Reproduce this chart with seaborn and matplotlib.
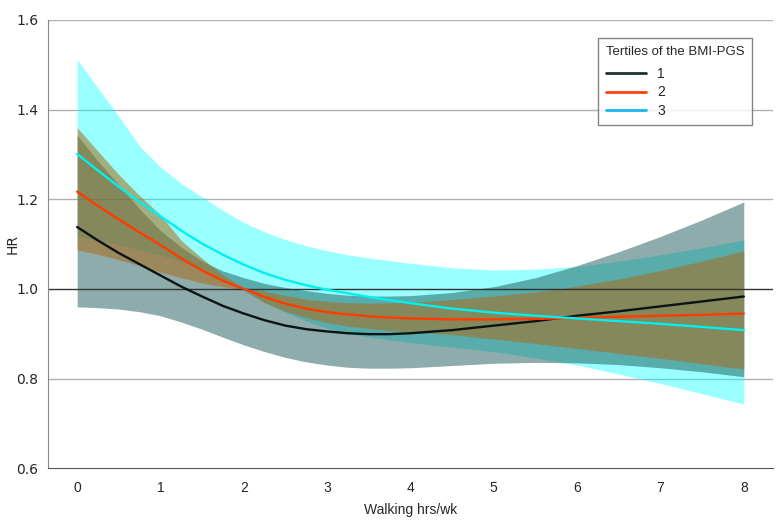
import numpy as np
import pandas as pd
import seaborn as sns
import matplotlib
matplotlib.use("Agg")
import matplotlib.pyplot as plt
from matplotlib.lines import Line2D

# walking hours per week
hours = [0, 0.25, 0.5, 0.75, 1, 1.25, 1.5, 1.75, 2, 2.25, 2.5, 2.75, 3, 3.25, 3.5, 3.75, 4,
         4.5, 5, 5.5, 6, 6.5, 7, 7.5, 8]

# tertile 1
hr1 = [1.138, 1.108, 1.080, 1.055, 1.030, 1.005, 0.983, 0.962, 0.945, 0.930, 0.918, 0.910, 0.905,
       0.901, 0.899, 0.899, 0.901, 0.908, 0.918, 0.928, 0.940, 0.950, 0.961, 0.972, 0.983]
lo1 = [0.960, 0.958, 0.955, 0.949, 0.940, 0.926, 0.910, 0.892, 0.875, 0.860, 0.847, 0.837, 0.830,
       0.825, 0.823, 0.823, 0.824, 0.829, 0.834, 0.836, 0.835, 0.831, 0.824, 0.815, 0.804]
hi1 = [1.343, 1.285, 1.232, 1.178, 1.130, 1.093, 1.062, 1.040, 1.025, 1.012, 1.003, 0.996, 0.990,
       0.986, 0.984, 0.984, 0.985, 0.992, 1.005, 1.025, 1.052, 1.083, 1.117, 1.154, 1.194]

# tertile 2
hr2 = [1.217, 1.185, 1.155, 1.126, 1.098, 1.068, 1.041, 1.018, 1.000, 0.982, 0.967, 0.956, 0.948,
       0.943, 0.939, 0.936, 0.934, 0.932, 0.932, 0.933, 0.935, 0.938, 0.940, 0.942, 0.945]
lo2 = [1.087, 1.077, 1.065, 1.052, 1.037, 1.025, 1.013, 1.005, 0.998, 0.969, 0.950, 0.936, 0.925,
       0.917, 0.912, 0.907, 0.904, 0.898, 0.888, 0.878, 0.867, 0.856, 0.845, 0.833, 0.821]
hi2 = [1.360, 1.307, 1.255, 1.208, 1.165, 1.108, 1.068, 1.031, 1.002, 0.995, 0.985, 0.977, 0.972,
       0.969, 0.968, 0.969, 0.970, 0.976, 0.984, 0.993, 1.006, 1.022, 1.041, 1.062, 1.085]

# tertile 3
hr3 = [1.301, 1.264, 1.228, 1.194, 1.162, 1.130, 1.101, 1.076, 1.054, 1.035, 1.020, 1.008, 0.998,
       0.990, 0.982, 0.975, 0.968, 0.956, 0.947, 0.940, 0.934, 0.928, 0.922, 0.915, 0.908]
lo3 = [1.118, 1.108, 1.098, 1.087, 1.075, 1.062, 1.045, 1.022, 0.995, 0.969, 0.948, 0.928, 0.912,
       0.900, 0.893, 0.886, 0.880, 0.870, 0.860, 0.846, 0.830, 0.810, 0.789, 0.766, 0.743]
hi3 = [1.512, 1.448, 1.385, 1.318, 1.272, 1.235, 1.205, 1.175, 1.148, 1.127, 1.110, 1.096, 1.085,
       1.076, 1.069, 1.063, 1.057, 1.047, 1.042, 1.044, 1.050, 1.062, 1.076, 1.092, 1.109]

tertiles = ["1", "2", "3"]
line_colors = ["#0a1414", "#ff3c00", "#00f0f0"]
legend_colors = ["#1e3232", "#ff4010", "#18b8ec"]

sns.set_style("white")
plt.rcParams["font.family"] = ["Liberation Sans", "DejaVu Sans"]

df = pd.DataFrame({
    "hours": hours * 3,
    "HR": hr1 + hr2 + hr3,
    "tertile": ["1"] * len(hours) + ["2"] * len(hours) + ["3"] * len(hours),
})

fig = plt.figure(figsize=(7.8, 5.26), dpi=100)
ax = fig.add_axes([0.0615, 0.110, 0.9295, 0.852])

# confidence bands: tertile 3 underneath, then 1, then 2
ax.fill_between(hours, lo3, hi3, color="#00ffff", alpha=0.4, linewidth=0, zorder=1)
ax.fill_between(hours, lo1, hi1, color="#155353", alpha=0.48, linewidth=0, zorder=1)
ax.fill_between(hours, lo2, hi2, color="#a86c18", alpha=0.55, linewidth=0, zorder=1)

for y in [0.8, 1.2, 1.4, 1.6]:
    ax.axhline(y, color="#b0b0b0", linewidth=1.0, zorder=0)
ax.axhline(1.0, color="#333333", linewidth=1.0, zorder=2)

sns.lineplot(data=df, x="hours", y="HR", hue="tertile", palette=dict(zip(tertiles, line_colors)),
             linewidth=1.7, ax=ax, legend=False, zorder=3)

ax.set_xlim(-0.35, 8.35)
ax.set_ylim(0.6, 1.6)
ax.set_xticks(range(0, 9))
ax.set_yticks([0.6, 0.8, 1.0, 1.2, 1.4, 1.6])
ax.set_yticklabels(["0.6", "0.8", "1.0", "1.2", "1.4", "1.6"])
ax.set_xlabel("Walking hrs/wk", fontsize=10, labelpad=6)
ax.set_ylabel("HR", fontsize=10, family=["DejaVu Sans"])
ax.yaxis.set_label_coords(-0.039, 0.5)
ax.tick_params(axis="x", labelsize=10, length=4, color="#555555", direction="out", pad=5)
ax.tick_params(axis="y", labelsize=10, length=4, color="#555555", direction="out", pad=3)
for lab in ax.get_yticklabels():
    lab.set_family(["DejaVu Sans"])
sns.despine(ax=ax)
ax.spines["left"].set_color("#888888")
ax.spines["bottom"].set_color("#555555")

handles = [Line2D([0], [0], color=c, linewidth=2) for c in legend_colors]
leg = ax.legend(handles, tertiles, title="Tertiles of the BMI-PGS", loc="upper right",
                bbox_to_anchor=(0.971, 0.96), borderaxespad=0, fancybox=False, frameon=True,
                fontsize=10, title_fontsize=9.5, handlelength=2.9, borderpad=0.55,
                labelspacing=0.3, alignment="left")
leg._legend_box.sep = 7
leg.get_frame().set_edgecolor("#666666")
leg.get_frame().set_linewidth(1.0)

fig.savefig("out.png", dpi=100)
